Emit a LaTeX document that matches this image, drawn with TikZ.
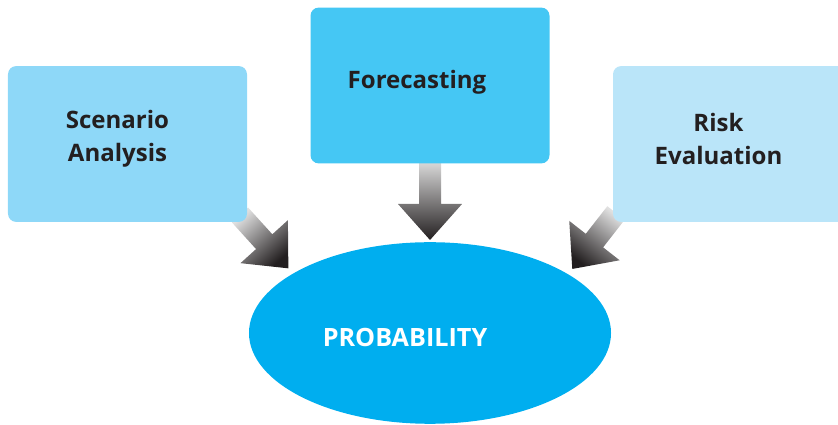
\documentclass[tikz,border=0pt]{standalone}
\usepackage{fontspec}
\setmainfont{Open Sans}
\usepackage{tikz}
\usetikzlibrary{calc, positioning, shapes.geometric}
\definecolor{boxLeft}{HTML}{8ED8F8}
\definecolor{boxMid}{HTML}{45C7F4}
\definecolor{boxRight}{HTML}{BAE5F9}
\definecolor{mainBlue}{HTML}{00AEEF}
\definecolor{mainBlack}{HTML}{231F20}
\tikzset{
  factor/.style={rectangle, rounded corners=7pt, minimum width=204pt, minimum height=133pt},
  factorText/.style={align=center, text=mainBlack, font=\fontsize{20.5}{28}\selectfont\bfseries},
}
% shaded block arrow: tail, angle, length
\newcommand{\shadedarrow}[3]{%
  \begin{scope}[shift={(#1)}, rotate=#2]
    \shade[top color=black!12, middle color=black!72, bottom color=mainBlack, shading angle=#2+90] (0,-11) -- (#3-36,-11) -- (#3-36,-32) -- (#3,0) -- (#3-36,32) -- (#3-36,11) -- (0,11) -- cycle;
  \end{scope}}

\begin{document}
\begin{tikzpicture}[x=0.03cm, y=0.03cm]
    \useasboundingbox (0,0) rectangle (838,425);
    \clip (0,0) rectangle (838,425);

    \coordinate (tailL) at (240,210);
    \coordinate (tailM) at (430,266);
    \coordinate (tailR) at (616,212);

    % Arrows
    \shadedarrow{tailL}{-47.8}{72}
    \shadedarrow{tailM}{-90}{81}
    \shadedarrow{tailR}{-128}{71}

    \node[factor, fill=boxLeft] (scenario) at (127.5,281) {};
    \node[factor, fill=boxMid] (forecast) at (430,339.5) {};
    \node[factor, fill=boxRight] (risk) at (732.5,281) {};
    \node[ellipse, fill=mainBlue, minimum width=309pt, minimum height=155pt, inner sep=0] (prob) at (430,92) {};

    \node[factorText] (scenarioTxt) at ([shift={(-10,5)}]scenario.center) {Scenario\\Analysis};
    \node[factorText] (forecastTxt) at ([shift={(-13,3)}]forecast.center) {Forecasting};
    \node[factorText] (riskTxt) at ([shift={(-14,5)}]risk.center) {Risk\\Evaluation};
    \node[factorText, text=white, font=\fontsize{21.5}{26}\selectfont\bfseries] (probTxt) at ([shift={(-25,-4)}]prob.center) {PROBABILITY};
\end{tikzpicture}
\end{document}
